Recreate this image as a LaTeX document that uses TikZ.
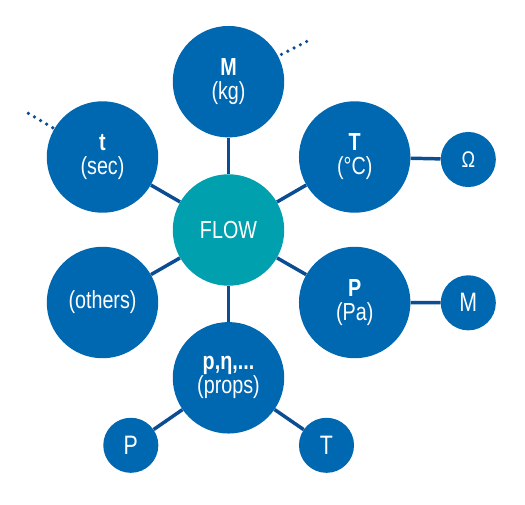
\documentclass[tikz,border=0pt]{standalone}
\usepackage{fontspec}
\setmainfont[FakeStretch=0.8]{Liberation Sans}
\definecolor{cblue}{HTML}{0067B1}
\definecolor{cteal}{HTML}{00A0AE}
\definecolor{lblue}{HTML}{0B4C92}
\begin{document}
\begin{tikzpicture}[x=0.75pt,y=-0.75pt,
  big/.style={circle,fill=cblue,text=white,minimum size=83.6pt,inner sep=0pt,align=center,
    font=\fontsize{18.5pt}{18pt}\selectfont},
  small/.style={circle,fill=cblue,text=white,minimum size=41.3pt,inner sep=0pt,
    font=\fontsize{20pt}{20pt}\selectfont},
  link/.style={draw=lblue,line width=2.6pt},
  dots/.style={draw=lblue,line width=2.7pt,line cap=round,dash pattern=on 0pt off 5.3pt}]
\useasboundingbox (0,0) rectangle (525,504);
\coordinate (fc) at (228.5,230);
\coordinate (mdot) at (307,41.3);
\coordinate (tdot) at (28.3,113.3);
\node[big] (M) at (228.5,81.7) {\textbf{M}\\(kg)};
\node[big] (t) at (102.5,157) {\textbf{t}\\(sec)};
\node[big] (T) at (354.7,157) {\textbf{T}\\(°C)};
\node[big] (O) at (102.5,302.5) {(others)};
\node[big] (P) at (354.7,302.5) {\textbf{P}\\(Pa)};
\node[big] (pr) at (228.5,377.8) {\textbf{p,η,...}\\(props)};
\node[big,fill=cteal] (F) at (fc) {FLOW};
\node[small,font=\fontsize{17pt}{17pt}\selectfont] (om) at (468.3,159.5) {Ω};
\node[small] (sm) at (468.3,302.8) {M};
\node[small] (sp) at (130.8,445.3) {P};
\node[small] (st) at (326.5,445.3) {T};
\draw[link] (F) -- (M);
\draw[link] (F) -- (t);
\draw[link] (F) -- (T);
\draw[link] (F) -- (O);
\draw[link] (F) -- (P);
\draw[link] (F) -- (pr);
\draw[link] (T) -- (om);
\draw[link] (P) -- (sm);
\draw[link] (pr) -- (sp);
\draw[link] (pr) -- (st);
\draw[dots,dash phase=2.6pt] (M) -- (mdot);
\draw[dots,dash phase=4.0pt] (t) -- (tdot);
\end{tikzpicture}
\end{document}
